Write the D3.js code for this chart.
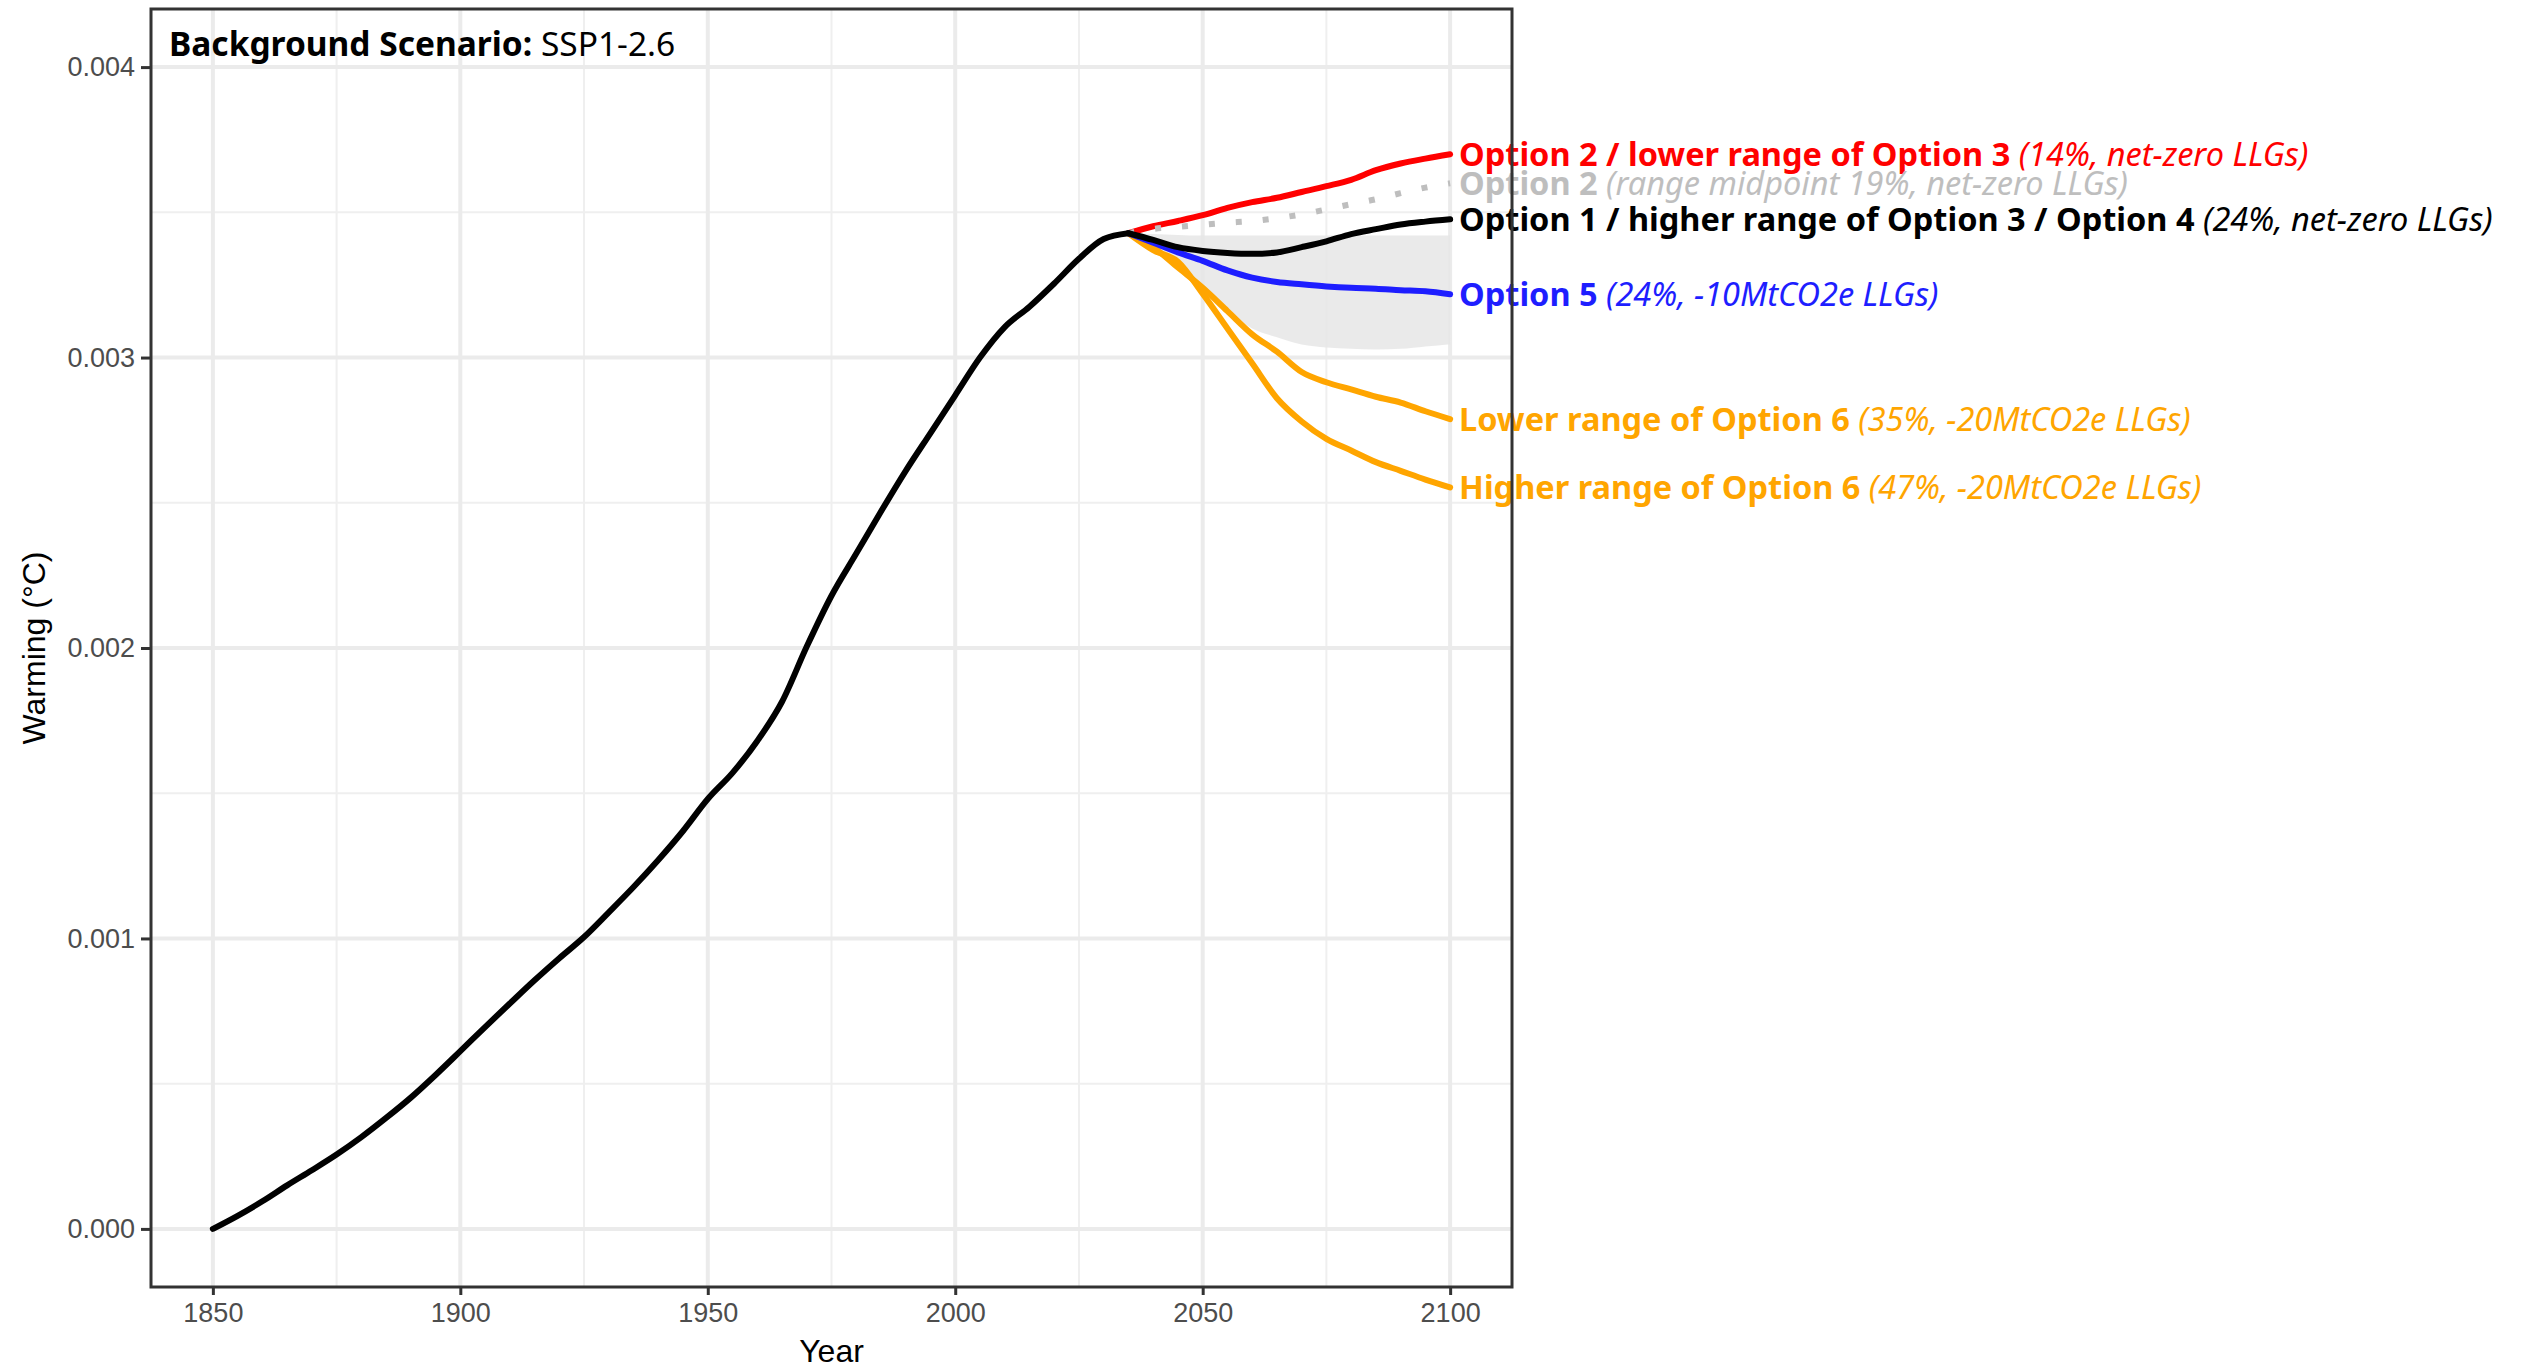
<!DOCTYPE html>
<html><head><meta charset="utf-8">
<script src="https://cdn.jsdelivr.net/npm/d3@7"></script>
<style>body{margin:0;background:#fff}</style>
</head><body><svg id="c" width="2522" height="1369"></svg>
<script>
// ---------- data ----------
const histYears  = [1850,1855,1860,1865,1870,1875,1880,1885,1890,1895,1900,1905,1910,1915,1920,1925,1930,1935,1940,1945,1950,1955,1960,1965,1970,1975,1980,1985,1990,1995,2000,2005,2010,2015,2020,2025,2030,2035];
const histValues = [0,0.000045,0.000095,0.000150,0.000202,0.000256,0.000316,0.000382,0.000452,0.000530,0.000612,0.000695,0.000776,0.000856,0.000932,0.001005,0.001090,0.001177,0.001270,0.001370,0.001480,0.001570,0.001680,0.001815,0.002005,0.002180,0.002325,0.002470,0.002610,0.002740,0.002870,0.003000,0.003105,0.003175,0.003255,0.003340,0.003408,0.003428];

const scenYears  = [2035,2040,2045,2050,2055,2060,2065,2070,2075,2080,2085,2090,2095,2100];
const opt2Lower  = [0.003428,0.003452,0.003470,0.003490,0.003515,0.003535,0.003550,0.003570,0.003590,0.003612,0.003645,0.003668,0.003685,0.003700];
const opt2Mid    = [0.003428,0.003443,0.003450,0.003457,0.003464,0.003470,0.003480,0.003493,0.003510,0.003528,0.003545,0.003566,0.003585,0.003600];
const opt1       = [0.003428,0.003405,0.003380,0.003367,0.003360,0.003357,0.003362,0.003380,0.003400,0.003425,0.003442,0.003458,0.003468,0.003476];
const opt5       = [0.003428,0.003395,0.003362,0.003333,0.003300,0.003275,0.003260,0.003252,0.003245,0.003240,0.003237,0.003232,0.003228,0.003218];
const opt6Lower  = [0.003428,0.003380,0.003310,0.003240,0.003160,0.003080,0.003020,0.002950,0.002915,0.002890,0.002865,0.002845,0.002815,0.002788];
const opt6Higher = [0.003428,0.003370,0.003330,0.003220,0.003100,0.002980,0.002860,0.002780,0.002720,0.002680,0.002640,0.002610,0.002580,0.002553];
const ribbonLow  = [0.003428,0.003380,0.003310,0.003230,0.003160,0.003100,0.003070,0.003045,0.003035,0.003030,0.003028,0.003030,0.003038,0.003046];
const ribbonHigh = [0.003428,0.003425,0.003422,0.003420,0.003420,0.003420,0.003420,0.003420,0.003420,0.003420,0.003420,0.003420,0.003420,0.003420];

const xTicks = [1850,1900,1950,2000,2050,2100];
const xMinor = [1875,1925,1975,2025,2075];
const yTicks = [0,0.001,0.002,0.003,0.004];
const yMinor = [0.0005,0.0015,0.0025,0.0035];
const yTickLabels = ["0.000","0.001","0.002","0.003","0.004"];

const seriesNames  = ["opt2Lower","opt2Mid","opt1","opt5","opt6Lower","opt6Higher"];
const labelBold    = ["Option 2 / lower range of Option 3 ","Option 2 ","Option 1 / higher range of Option 3 / Option 4 ","Option 5 ","Lower range of Option 6 ","Higher range of Option 6 "];
const labelItalic  = ["(14%, net-zero LLGs)","(range midpoint 19%, net-zero LLGs)","(24%, net-zero LLGs)","(24%, -10MtCO2e LLGs)","(35%, -20MtCO2e LLGs)","(47%, -20MtCO2e LLGs)"];
const seriesColors = ["#FF0000","#BEBEBE","#000000","#1E1EFF","#FFA500","#FFA500"];

// ---------- layout ----------
const L = 151, R = 1512, T = 9, B = 1287;
const svg = d3.select("#c");
const x = d3.scaleLinear([1837.5, 2112.5], [L, R]);
const y = d3.scaleLinear([-0.0002, 0.0042], [B, T]);
const tickFont = "'Liberation Sans', Arial, sans-serif";
const labFont = "'Noto Sans', 'Open Sans', sans-serif";

// panel background + grid
const g = svg.append("g");
g.append("rect").attr("x",L).attr("y",T).attr("width",R-L).attr("height",B-T).attr("fill","#fff");
g.selectAll(".xmin").data(xMinor).join("line").attr("x1",d=>x(d)).attr("x2",d=>x(d)).attr("y1",T).attr("y2",B).attr("stroke","#EFEFEF").attr("stroke-width",2);
g.selectAll(".ymin").data(yMinor).join("line").attr("y1",d=>y(d)).attr("y2",d=>y(d)).attr("x1",L).attr("x2",R).attr("stroke","#EFEFEF").attr("stroke-width",2);
g.selectAll(".xmaj").data(xTicks).join("line").attr("x1",d=>x(d)).attr("x2",d=>x(d)).attr("y1",T).attr("y2",B).attr("stroke","#EBEBEB").attr("stroke-width",4);
g.selectAll(".ymaj").data(yTicks).join("line").attr("y1",d=>y(d)).attr("y2",d=>y(d)).attr("x1",L).attr("x2",R).attr("stroke","#EBEBEB").attr("stroke-width",4);

// ribbon
const rib = scenYears.map((yr,i)=>({yr, lo:ribbonLow[i], hi:ribbonHigh[i]}));
g.append("path").datum(rib)
  .attr("d", d3.area().x(d=>x(d.yr)).y0(d=>y(d.lo)).y1(d=>y(d.hi)).curve(d3.curveMonotoneX))
  .attr("fill","#E6E6E6").attr("opacity",0.85);

const seriesData = {opt2Lower, opt2Mid, opt1, opt5, opt6Lower, opt6Higher};
const line = d3.line().x(d=>x(d[0])).y(d=>y(d[1])).curve(d3.curveMonotoneX);
const drawOrder = ["opt2Lower","opt2Mid","opt6Higher","opt6Lower","opt5","opt1"];
drawOrder.forEach(name=>{
  const i = seriesNames.indexOf(name);
  const pts = scenYears.map((yr,k)=>[yr, seriesData[name][k]]);
  const p = g.append("path").attr("d", line(pts)).attr("fill","none")
    .attr("stroke", seriesColors[i]).attr("stroke-width", 6)
    .attr("stroke-linejoin","round");
  if (name==="opt2Mid") p.attr("stroke-dasharray","6,21");
  else p.attr("stroke-linecap","round");
});

// historical
g.append("path").attr("d", line(histYears.map((yr,k)=>[yr,histValues[k]])))
  .attr("fill","none").attr("stroke","#000").attr("stroke-width",6).attr("stroke-linecap","round").attr("stroke-linejoin","round");

// labels
seriesNames.forEach((name,i)=>{
  const vals = seriesData[name];
  const t = svg.append("text").attr("x", x(2101.8)).attr("y", y(vals[vals.length-1])).attr("dy","0.36em")
    .attr("font-family", labFont).attr("font-size", 32.5).attr("fill", seriesColors[i]);
  t.append("tspan").attr("font-weight","bold").text(labelBold[i]);
  t.append("tspan").attr("font-style","italic").text(labelItalic[i]);
});

// annotation
const ann = svg.append("text").attr("x", L+18).attr("y", 56).attr("font-family", labFont).attr("font-size", 33.5).attr("fill","#000");
ann.append("tspan").attr("font-weight","bold").text("Background Scenario: ");
ann.append("tspan").text("SSP1-2.6");

// panel border
svg.append("rect").attr("x",L).attr("y",T).attr("width",R-L).attr("height",B-T).attr("fill","none").attr("stroke","#333").attr("stroke-width",3);

// axes
const xAxis = svg.append("g").attr("transform",`translate(0,${B})`)
  .call(d3.axisBottom(x).tickValues(xTicks).tickFormat(d3.format("d")).tickSize(8).tickPadding(8));
const yAxis = svg.append("g").attr("transform",`translate(${L},0)`)
  .call(d3.axisLeft(y).tickValues(yTicks).tickFormat((d,i)=>yTickLabels[i]).tickSize(10).tickPadding(6));
[xAxis,yAxis].forEach(a=>{
  a.select(".domain").remove();
  a.selectAll(".tick line").attr("stroke","#333").attr("stroke-width",3);
  a.selectAll(".tick text").attr("fill","#4D4D4D").attr("font-family",tickFont).attr("font-size",27);
});

// axis titles
svg.append("text").attr("x",(L+R)/2).attr("y",1362).attr("text-anchor","middle")
  .attr("font-family",tickFont).attr("font-size",32).attr("fill","#000").text("Year");
svg.append("text").attr("transform",`translate(34,${(T+B)/2}) rotate(-90)`).attr("dy","0.35em").attr("text-anchor","middle")
  .attr("font-family",tickFont).attr("font-size",32).attr("fill","#000").text("Warming (°C)");
</script></body></html>
